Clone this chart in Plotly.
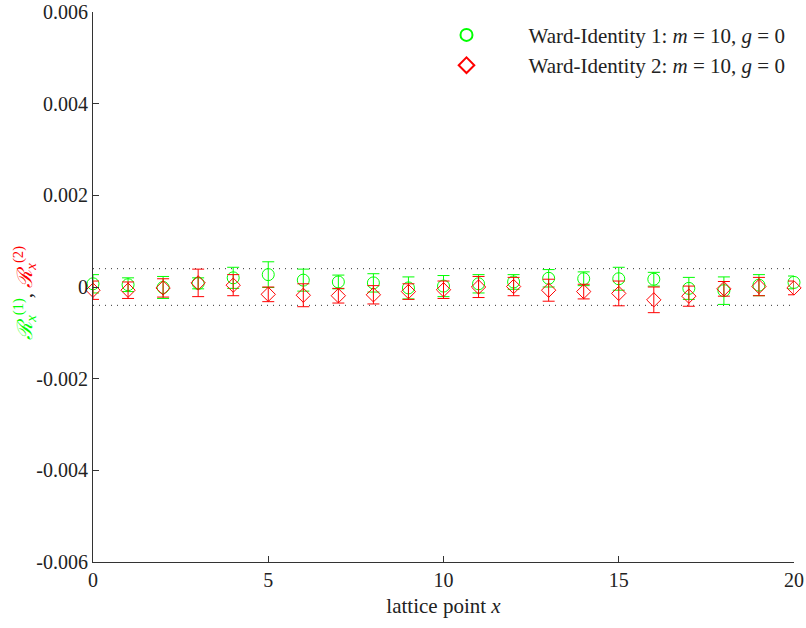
import plotly.graph_objects as go

x = list(range(21))
wi1_val = [0.00007, 0.00005, -0.00001, 0.00008, 0.00020, 0.00027, 0.00015, 0.00011, 0.00009, -0.00002,
           0.00002, 0.00007, 0.00011, 0.00019, 0.00018, 0.00018, 0.00017, -0.00003, -0.00008, 0.00004, 0.00010]
wi1_err = [0.00020, 0.00015, 0.00024, 0.00012, 0.00023, 0.00028, 0.00024, 0.00015, 0.00020, 0.00024,
           0.00023, 0.00020, 0.00016, 0.00019, 0.00015, 0.00025, 0.00015, 0.00024, 0.00030, 0.00023, 0.00014]
wi2_val = [-0.00007, -0.00007, -0.00002, 0.00009, 0.00004, -0.00016, -0.00018, -0.00019, -0.00017, -0.00010,
           -0.00006, 0.00000, 0.00001, -0.00007, -0.00010, -0.00014, -0.00028, -0.00020, -0.00004, 0.00001, -0.00002]
wi2_err = [0.00020, 0.00018, 0.00020, 0.00030, 0.00023, 0.00016, 0.00025, 0.00016, 0.00020, 0.00017,
           0.00019, 0.00023, 0.00020, 0.00024, 0.00016, 0.00027, 0.00028, 0.00022, 0.00016, 0.00020, 0.00015]
band = 0.0004
y_ticks = [-0.006, -0.004, -0.002, 0, 0.002, 0.004, 0.006]
y_tick_text = ["-0.006", "-0.004", "-0.002", "0", "0.002", "0.004", "0.006"]
x_ticks = [0, 5, 10, 15, 20]

GREEN = "#00ff00"
RED = "#ff0000"
FONT = "Liberation Serif"
PAD = "&nbsp;" * 8

fig = go.Figure()
for yv in (band, -band):
    fig.add_trace(go.Scatter(x=[x[0], x[-1]], y=[yv, yv], mode="lines",
                             line=dict(color="#333333", width=1, dash="1px,5px"),
                             showlegend=False, hoverinfo="skip"))

fig.add_trace(go.Scatter(
    x=x, y=wi1_val, mode="markers",
    name=PAD + "Ward-Identity 1: <i>m</i> = 10, <i>g</i> = 0",
    marker=dict(symbol="circle-open", size=12, color=GREEN, line=dict(width=1)),
    error_y=dict(type="data", array=wi1_err, color=GREEN, thickness=1, width=6),
    cliponaxis=False))
fig.add_trace(go.Scatter(
    x=x, y=wi2_val, mode="markers",
    name=PAD + "Ward-Identity 2: <i>m</i> = 10, <i>g</i> = 0",
    marker=dict(symbol="diamond-open", size=11, color=RED, line=dict(width=1)),
    error_y=dict(type="data", array=wi2_err, color=RED, thickness=1, width=6),
    cliponaxis=False))

fig.update_layout(
    width=806, height=628,
    margin=dict(l=93, r=12, t=12, b=66),
    plot_bgcolor="white", paper_bgcolor="white",
    font=dict(family=FONT, size=20, color="#222222"),
    showlegend=True,
    legend=dict(x=0.995, y=0.995, xanchor="right", yanchor="top",
                bgcolor="rgba(0,0,0,0)", font=dict(family=FONT, size=21),
                itemsizing="constant", tracegroupgap=6),
    xaxis=dict(range=[0, 20], tickmode="array", tickvals=x_ticks,
               ticks="inside", ticklen=6, tickcolor="#333333",
               showline=True, linecolor="#333333", linewidth=1,
               showgrid=False, zeroline=False, automargin=False,
               title=dict(text="lattice point <i>x</i>", font=dict(family=FONT, size=21), standoff=8)),
    yaxis=dict(range=[-0.006, 0.006], tickmode="array", tickvals=y_ticks, ticktext=y_tick_text,
               ticks="inside", ticklen=6, tickcolor="#333333",
               showline=True, linecolor="#333333", linewidth=1,
               showgrid=False, zeroline=False, automargin=False),
)

fig.add_annotation(
    xref="paper", yref="paper", x=-0.098, y=0.49, xanchor="center", yanchor="middle",
    textangle=-90, showarrow=False,
    text=("<span style='color:#00ff00'><i>ℛ</i><sub><i>x</i></sub><sup>(1)</sup></span>"
          "<span style='color:#222222'>, </span>"
          "<span style='color:#ff0000'><i>ℛ</i><sub><i>x</i></sub><sup>(2)</sup></span>"),
    font=dict(family=FONT, size=21))

fig.write_html("out.html", config={"displayModeBar": False},
               post_script="document.body.style.margin='0';")
